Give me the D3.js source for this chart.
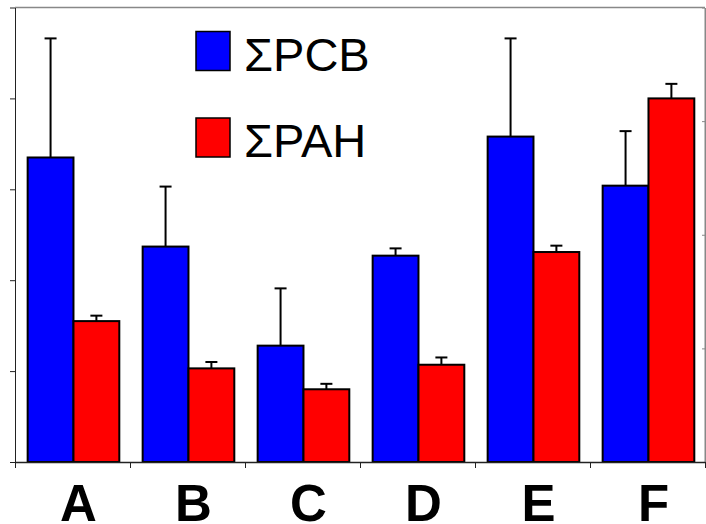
<!DOCTYPE html>
<html>
<head>
<meta charset="utf-8">
<script src="https://cdn.jsdelivr.net/npm/d3@7"></script>
<style>
  html, body { margin: 0; padding: 0; background: #fff; }
  svg { display: block; }
</style>
</head>
<body>
<svg id="chart" width="706" height="524"></svg>
<script>
const categories = ["A", "B", "C", "D", "E", "F"];
const seriesNames = ["ΣPCB", "ΣPAH"];
const pcbValues = [3.35, 2.37, 1.28, 2.27, 3.58, 3.04];
const pcbErrors = [1.31, 0.66, 0.63, 0.08, 1.08, 0.60];
const pahValues = [1.55, 1.03, 0.80, 1.07, 2.31, 4.00];
const pahErrors = [0.06, 0.07, 0.06, 0.08, 0.07, 0.16];
const leftTicks = [0, 1, 2, 3, 4, 5];
const rightTicks = [0, 1, 2, 3, 4];
const colors = ["#0000FF", "#FF0000"];

const svg = d3.select("#chart");
const plotLeft = 15, plotRight = 705, plotTop = 7.5, plotBottom = 462;

const y = d3.scaleLinear().domain([0, 5]).range([plotBottom, plotTop]);
const yRight = d3.scaleLinear().domain([0, 4]).range([plotBottom, plotTop]);
const x = d3.scaleBand().domain(categories).range([plotLeft, plotRight]).padding(0);
const xb = d3.scaleLinear().domain([0, categories.length]).range([plotLeft, plotRight]);
const g = x.bandwidth();
const x1 = d3.scaleBand().domain(seriesNames).range([g * 0.11, g * 0.907]).padding(0);

// frame: top border (gray)
svg.append("line").attr("x1", plotLeft).attr("x2", plotRight).attr("y1", plotTop).attr("y2", plotTop)
  .attr("stroke", "#888").attr("stroke-width", 1.5);

// right axis (gray) with inward ticks
const rAxis = svg.append("g").attr("transform", `translate(${plotRight},0)`)
  .call(d3.axisRight(yRight).tickValues(rightTicks).tickSize(-3).tickFormat("").tickSizeOuter(0));
rAxis.select(".domain").attr("stroke", "#888").attr("stroke-width", 2);
rAxis.selectAll(".tick line").attr("stroke", "#888");

const series = [
  { name: seriesNames[0], values: pcbValues, errors: pcbErrors, color: colors[0] },
  { name: seriesNames[1], values: pahValues, errors: pahErrors, color: colors[1] }
];

const groups = svg.append("g").selectAll("g")
  .data(categories)
  .join("g")
  .attr("transform", d => `translate(${x(d)},0)`);

// error bars
groups.each(function(cat, i) {
  const grp = d3.select(this);
  series.forEach(s => {
    const cx = x1(s.name) + x1.bandwidth() / 2;
    const v = s.values[i], e = s.errors[i];
    grp.append("line").attr("x1", cx).attr("x2", cx)
      .attr("y1", y(v)).attr("y2", y(v + e))
      .attr("stroke", "#000").attr("stroke-width", 2);
    grp.append("line").attr("x1", cx - 6).attr("x2", cx + 6)
      .attr("y1", y(v + e)).attr("y2", y(v + e))
      .attr("stroke", "#000").attr("stroke-width", 2);
  });
});

// bars
groups.each(function(cat, i) {
  const grp = d3.select(this);
  series.forEach(s => {
    grp.append("rect")
      .attr("x", x1(s.name))
      .attr("width", x1.bandwidth())
      .attr("y", y(s.values[i]))
      .attr("height", y(0) - y(s.values[i]))
      .attr("fill", s.color)
      .attr("stroke", "#000")
      .attr("stroke-width", 2);
  });
});

// left axis
const lAxis = svg.append("g").attr("transform", `translate(${plotLeft},0)`)
  .call(d3.axisLeft(y).tickValues(leftTicks).tickSize(5).tickFormat("").tickSizeOuter(0));
lAxis.select(".domain").attr("stroke", "#222").attr("stroke-width", 1);
lAxis.selectAll(".tick line").attr("stroke", "#222");

// bottom axis with ticks at group boundaries
const bAxis = svg.append("g").attr("transform", `translate(0,${plotBottom})`)
  .call(d3.axisBottom(xb).ticks(categories.length).tickSize(6).tickFormat("").tickSizeOuter(0));
bAxis.select(".domain").attr("stroke", "#222").attr("stroke-width", 1.5);
bAxis.selectAll(".tick line").attr("stroke", "#222");

// category labels
svg.append("g").selectAll("text")
  .data(categories)
  .join("text")
  .attr("x", d => x(d) + g / 2 + 6)
  .attr("y", 521)
  .attr("text-anchor", "middle")
  .attr("font-family", "Liberation Sans, Arial, sans-serif")
  .attr("font-weight", "bold")
  .attr("font-size", 51)
  .attr("fill", "#000")
  .text(d => d);

// legend
const legend = svg.append("g");
const legendY = [31.5, 118];
series.forEach((s, i) => {
  legend.append("rect")
    .attr("x", 196).attr("y", legendY[i])
    .attr("width", 34).attr("height", 39)
    .attr("fill", s.color).attr("stroke", "#000").attr("stroke-width", 1.5);
  legend.append("text")
    .attr("x", 244).attr("y", legendY[i] + 39)
    .attr("font-family", "Liberation Sans, Arial, sans-serif")
    .attr("font-size", 47)
    .attr("fill", "#000")
    .text(s.name);
});
</script>
</body>
</html>
